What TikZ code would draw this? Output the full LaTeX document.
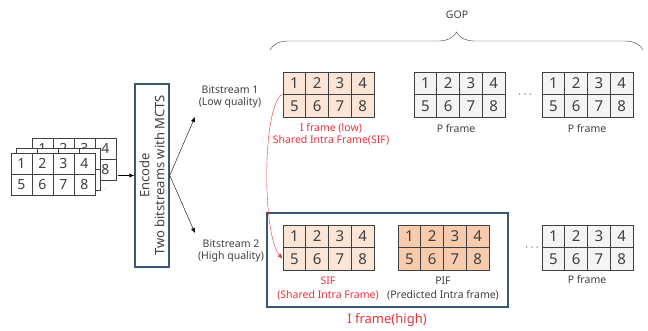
\documentclass[tikz,border=0pt]{standalone}
\usepackage{fontspec}
\setmainfont{Noto Sans}
\usepackage{tikz}
\usetikzlibrary{arrows.meta, positioning, decorations.pathreplacing}

\definecolor{framegray}{HTML}{404040}
\definecolor{sifpeach}{HTML}{FBE5D6}
\definecolor{pifpeach}{HTML}{F8CBAD}
\definecolor{pgray}{HTML}{F4F4F4}
\definecolor{boxblue}{HTML}{3B5778}
\definecolor{sifred}{HTML}{E8323C}
\definecolor{txtgray}{HTML}{404040}

\newcommand{\tilegrid}[6]{%
  \foreach \n in {1,...,8}{%
    \pgfmathtruncatemacro{\col}{mod(\n-1,4)}%
    \pgfmathtruncatemacro{\row}{(\n-1)/4}%
    \node[#6, minimum width=#4pt, minimum height=#5pt] (#1-\n) at ({#2+(\col+0.5)*#4},{#3+(\row+0.5)*#5}) {\n};
  }}

\begin{document}
\begin{tikzpicture}[x=1pt, y=-1pt,
            cell/.style={draw=framegray, line width=0.8pt, inner sep=0pt, text=txtgray, font=\fontsize{15}{15}\selectfont},
            incell/.style={cell, fill=white, font=\fontsize{14}{14}\selectfont},
            lbl/.style={font=\fontsize{10.5}{12.5}\selectfont, text=txtgray, align=center},
            redlbl/.style={lbl, text=sifred},
            >={Latex[length=5pt, width=4pt]}]
            \useasboundingbox (0,0) rectangle (648,330);

            \tilegrid{back}{32}{138}{21}{21}{incell}
            \tilegrid{mid}{16}{148}{21}{21}{incell}
            \tilegrid{front}{11}{153}{21}{21}{incell}
            \node[text=gray, rotate=40, font=\tiny] (more) at (106,189) {...};

            \node[draw=boxblue, line width=1.5pt, rotate=90, minimum width=183pt, minimum height=34pt, align=center, text=txtgray, font=\fontsize{13}{15}\selectfont] (encode) at (152,175.5) {Encode\\Two bitstreams with MCTS};
            \coordinate (stackout) at (118,175.5);
            \draw[->] (stackout) -- (encode.north);

            \coordinate (bs1tip) at (195,117);
            \coordinate (bs2tip) at (195,233);
            \draw[->] (encode.south) -- (bs1tip);
            \draw[->] (encode.south) -- (bs2tip);
            \node[lbl] (bs1) at (230,97) {Bitstream 1\\(Low quality)};
            \node[lbl] (bs2) at (231,251) {Bitstream 2\\(High quality)};

            \node[draw=boxblue, line width=1.5pt, minimum width=241pt, minimum height=94pt] (hiframe) at (387.5,260) {};

            \tilegrid{low}{283}{72}{22.75}{22.5}{cell, fill=sifpeach}
            \tilegrid{pa}{414}{72}{22.75}{22.5}{cell, fill=pgray}
            \tilegrid{pb}{542}{72}{22.75}{22.5}{cell, fill=pgray}
            \tilegrid{sif}{283}{225}{22.75}{22.5}{cell, fill=sifpeach}
            \tilegrid{pif}{398}{225}{22.75}{22.5}{cell, fill=pifpeach}
            \tilegrid{pc}{542}{225}{22.75}{22.5}{cell, fill=pgray}

            \node[redlbl] (lowlbl) at (331,134.5) {I frame (low)\\Shared Intra Frame(SIF)};
            \node[lbl] (palbl) at (456,129) {P frame};
            \node[lbl] (pblbl) at (587,129) {P frame};
            \node[text=txtgray, font=\large] (dots1) at (525,95) {$\cdots$};
            \node[text=txtgray, font=\large] (dots2) at (532,248) {$\cdots$};

            \node[redlbl, font=\fontsize{10.5}{14}\selectfont] (siflbl) at (328,289) {SIF\\(Shared Intra Frame)};
            \node[lbl, font=\fontsize{10.5}{14}\selectfont] (piflbl) at (443,289) {PIF\\(Predicted Intra frame)};
            \node[lbl] (pclbl) at (587,280) {P frame};
            \node[redlbl, font=\fontsize{13}{15}\selectfont] (hilbl) at (387,320) {I frame(high)};

            \coordinate (gopl) at (270,50);
            \coordinate (gopr) at (643,50);
            \draw[decorate, decoration={brace, amplitude=18pt}, framegray] (gopl) -- (gopr);
            \node[lbl] (gop) at (457,15) {GOP};

            \draw[->, sifred] (low-5.north west) .. controls (262,105) and (262,235) .. (sif-5.west);
        \end{tikzpicture}
\end{document}
